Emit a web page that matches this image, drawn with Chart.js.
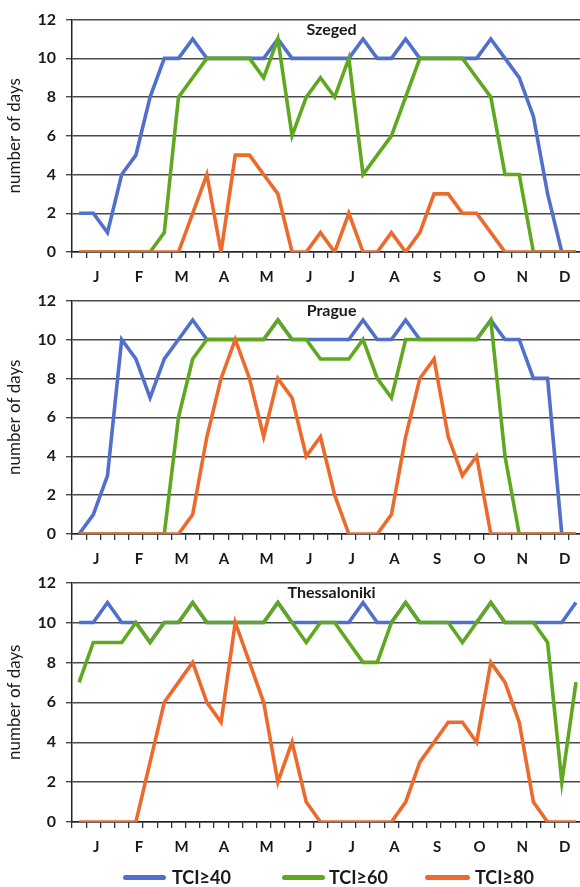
<!DOCTYPE html>
<html>
<head>
<meta charset="utf-8">
<script src="https://cdn.jsdelivr.net/npm/chart.js@4/dist/chart.umd.min.js"></script>
<style>
  html, body { margin: 0; padding: 0; background: #fff; width: 580px; height: 887px; overflow: hidden; }
  #wrap { position: relative; width: 580px; height: 887px; overflow: hidden; }
  #wrap canvas { position: absolute; left: 0; }
  .lg-line { position: absolute; height: 5px; border-radius: 3px; top: 875px; }
  .lg-text { position: absolute; top: 866px; font: bold 18px Lato, "Liberation Sans", sans-serif; color: #1a1a1a; line-height: 22px; white-space: nowrap; }
</style>
</head>
<body>
<div id="wrap">
  <canvas id="c1" width="586" height="290" style="top:0px"></canvas>
  <canvas id="c2" width="586" height="291" style="top:281px"></canvas>
  <canvas id="c3" width="586" height="297" style="top:563px"></canvas>
  <div class="lg-line" style="left:123px;width:43px;background:#5070cc"></div>
  <div class="lg-text" style="left:172px">TCI≥40</div>
  <div class="lg-line" style="left:282px;width:43px;background:#5fa820"></div>
  <div class="lg-text" style="left:329px">TCI≥60</div>
  <div class="lg-line" style="left:425px;width:45px;background:#ec6a2c"></div>
  <div class="lg-text" style="left:475px">TCI≥80</div>
</div>
<script>
// 36 dekads (3 per month)
const dekads = ['Jan1','Jan2','Jan3','Feb1','Feb2','Feb3','Mar1','Mar2','Mar3','Apr1','Apr2','Apr3',
                'May1','May2','May3','Jun1','Jun2','Jun3','Jul1','Jul2','Jul3','Aug1','Aug2','Aug3',
                'Sep1','Sep2','Sep3','Oct1','Oct2','Oct3','Nov1','Nov2','Nov3','Dec1','Dec2','Dec3'];
const monthLabels = ['J','F','M','A','M','J','J','A','S','O','N','D'];
const seriesNames = ['TCI≥40','TCI≥60','TCI≥80'];
const yTicks = [0, 2, 4, 6, 8, 10, 12];

const szegedTitle = 'Szeged';
const szeged40 = [2,2,1,4,5,8,10,10,11,10, 10,10,10,10,11,10,10,10,10,10, 11,10,10,11,10,10,10,10,10,11, 10,9,7,3,0,0];
const szeged60 = [0,0,0,0,0,0,1,8,9,10, 10,10,10,9,11,6,8,9,8,10, 4,5,6,8,10,10,10,10,9,8, 4,4,0,0,0,0];
const szeged80 = [0,0,0,0,0,0,0,0,2,4, 0,5,5,4,3,0,0,1,0,2, 0,0,1,0,1,3,3,2,2,1, 0,0,0,0,0,0];

const pragueTitle = 'Prague';
const prague40 = [0,1,3,10,9,7,9,10,11,10, 10,10,10,10,11,10,10,10,10,10, 11,10,10,11,10,10,10,10,10,11, 10,10,8,8,0,0];
const prague60 = [0,0,0,0,0,0,0,6,9,10, 10,10,10,10,11,10,10,9,9,9, 10,8,7,10,10,10,10,10,10,11, 4,0,0,0,0,0];
const prague80 = [0,0,0,0,0,0,0,0,1,5, 8,10,8,5,8,7,4,5,2,0, 0,0,1,5,8,9,5,3,4,0, 0,0,0,0,0,0];

const thessTitle = 'Thessaloniki';
const thess40 = [10,10,11,10,10,9,10,10,11,10, 10,10,10,10,11,10,10,10,10,10, 11,10,10,11,10,10,10,10,10,11, 10,10,10,10,10,11];
const thess60 = [7,9,9,9,10,9,10,10,11,10, 10,10,10,10,11,10,9,10,10,9, 8,8,10,11,10,10,10,9,10,11, 10,10,10,9,2,7];
const thess80 = [0,0,0,0,0,3,6,7,8,6, 5,10,8,6,2,4,1,0,0,0, 0,0,0,1,3,4,5,5,4,8, 7,5,1,0,0,0];

const colors = ['#5070cc', '#5fa820', '#ec6a2c'];
const FONT = 'Lato, "Liberation Sans", sans-serif';

const panelTitle = {
  id: 'panelTitle',
  afterDatasetsDraw(chart, args, opts) {
    const { ctx, chartArea } = chart;
    ctx.save();
    ctx.font = 'bold 16px ' + FONT;
    ctx.fillStyle = '#1a1a1a';
    ctx.textAlign = 'center';
    ctx.textBaseline = 'middle';
    ctx.fillText(opts.text, (chartArea.left + chartArea.right) / 2 + 4, chartArea.top + 10);
    ctx.restore();
  }
};

function makePanel(id, title, s40, s60, s80) {
  const data = [s40, s60, s80];
  return new Chart(document.getElementById(id), {
    type: 'line',
    data: {
      labels: dekads,
      datasets: data.map((d, k) => ({
        label: seriesNames[k],
        data: d,
        borderColor: colors[k],
        backgroundColor: colors[k],
        borderWidth: 3.6,
        pointRadius: 0,
        tension: 0,
        fill: false,
        order: 3 - k
      }))
    },
    plugins: [panelTitle],
    options: {
      responsive: false,
      animation: false,
      devicePixelRatio: 1,
      layout: { padding: { top: 17, right: 0, bottom: 0, left: 0 } },
      plugins: {
        legend: { display: false },
        tooltip: { enabled: false },
        panelTitle: { text: title }
      },
      scales: {
        x: {
          type: 'category',
          offset: true,
          grid: { offset: true, drawOnChartArea: false, drawTicks: true, tickLength: 6, color: '#333', lineWidth: 1.3 },
          border: { display: true, color: '#222', width: 1.5 },
          ticks: {
            autoSkip: false, maxRotation: 0, minRotation: 0, padding: 10, labelOffset: 3,
            color: '#1a1a1a', font: { family: FONT, weight: 'bold', size: 15 },
            callback: (v, i) => (i % 3 === 1 ? monthLabels[(i - 1) / 3] : '')
          },
          afterFit(s) { s.height = 38; }
        },
        y: {
          min: yTicks[0], max: yTicks[yTicks.length - 1],
          afterBuildTicks(s) { s.ticks = yTicks.map(v => ({ value: v })); },
          grid: { color: '#4a4a4a', lineWidth: 1.4, tickLength: 6 },
          border: { display: true, color: '#222', width: 1.5 },
          ticks: { padding: 10, color: '#1a1a1a', font: { family: FONT, weight: 'bold', size: 16 } },
          title: { display: true, text: 'number of days', color: '#1a1a1a', font: { family: FONT, size: 17 }, padding: { top: 4, bottom: 0 } },
          afterFit(s) { s.width = 72; }
        }
      }
    }
  });
}

makePanel('c1', szegedTitle, szeged40, szeged60, szeged80);
makePanel('c2', pragueTitle, prague40, prague60, prague80);
makePanel('c3', thessTitle, thess40, thess60, thess80);
</script>
</body>
</html>
